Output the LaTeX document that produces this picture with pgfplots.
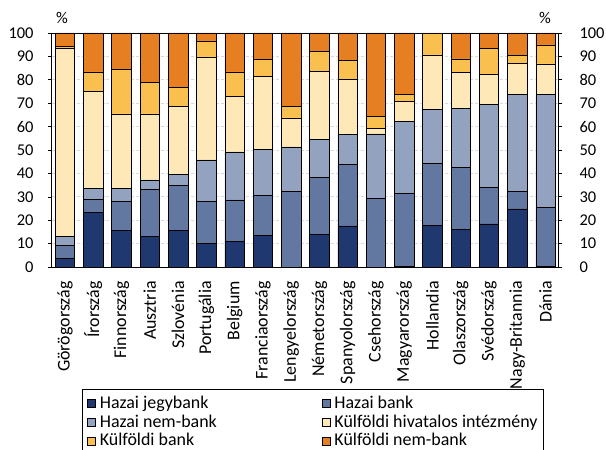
\documentclass[border=0pt]{standalone}
\usepackage{fontspec}
\setmainfont{Carlito}
\usepackage{pgfplots}
\usepackage{pgfplotstable}
\pgfplotsset{compat=1.18}
\definecolor{cjb}{HTML}{1F3870}
\definecolor{chb}{HTML}{6378A0}
\definecolor{chnb}{HTML}{93A2BF}
\definecolor{ckh}{HTML}{FFE8B8}
\definecolor{ckb}{HTML}{F9C04F}
\definecolor{cknb}{HTML}{E67E22}
\pgfplotstableread{
x jb hb hnb kh kb knb
0 3.8 5.6 3.8 80.3 0.8 5.7
1 23.4 5.5 4.7 41.6 8.2 16.6
2 15.5 12.7 5.4 31.8 19.0 15.6
3 13.0 20.3 3.9 28.2 13.5 21.1
4 15.7 19.3 4.6 28.9 8.1 23.4
5 10.2 17.7 17.9 44.0 6.8 3.4
6 11.1 17.6 20.5 23.6 10.6 16.6
7 13.6 17.0 19.6 31.2 7.3 11.3
8 0 32.2 19.1 12.4 4.8 31.5
9 14.0 24.2 16.3 29.2 8.5 7.8
10 17.6 26.1 12.9 23.4 8.4 11.6
11 0 29.4 27.5 2.2 5.4 35.5
12 0.4 30.9 31.0 8.3 3.0 26.4
13 17.9 26.5 22.8 23.4 9.4 0
14 16.2 26.5 25.2 15.2 5.8 11.1
15 18.4 15.6 35.6 12.8 11.1 6.5
16 24.8 7.4 41.4 13.4 3.4 9.6
17 0.4 25.1 48.1 13.2 8.1 5.1
}\data
\begin{document}
\fontsize{16.5}{19}\selectfont
\begin{tikzpicture}
\begin{axis}[
  at={(0,0)}, anchor=south west,
  scale only axis, width=506.6bp, height=234bp,
  ybar stacked, bar width=19.5bp,
  xmin=-0.47, xmax=17.45, ymin=0, ymax=100,
  ytick={0,10,...,100},
  xtick=data,
  xticklabels={Görögország,Írország,Finnország,Ausztria,Szlovénia,Portugália,Belgium,Franciaország,Lengyelország,Németország,Spanyolország,Csehország,Magyarország,Hollandia,Olaszország,Svédország,Nagy-Britannia,Dánia},
  x tick label style={rotate=90, anchor=east, inner sep=0pt, xshift=-10bp, font=\fontsize{18}{19}\selectfont},
  xtick style={draw=none},
  ytick pos=left,
  tick align=outside, major tick length=4bp,
  y tick label style={inner sep=0pt, xshift=-14bp},
  /pgf/number format/assume math mode=true,
  ymajorgrids, grid style={densely dashed, gray!30, line width=0.8bp},
  axis line style={line width=0.8bp},
  every tick/.style={black, line width=0.6bp},
  legend columns=2,
  legend cell align=left,
  legend style={at={(axis description cs:0.0598,-0.5214)}, anchor=north west,
    draw=black, line width=0.6bp, inner xsep=5bp, inner ysep=5.5bp, row sep=1.4bp,
    font=\fontsize{18}{19}\selectfont,
    nodes={inner ysep=1.2bp, inner xsep=1bp},
    /tikz/every even column/.append style={column sep=104bp}},
  legend image code/.code={\draw[#1, line width=0.5bp] (0bp,-4bp) rectangle (8bp,4bp); \path (11bp,0bp);},
  every axis plot/.append style={draw=black, line width=0.6bp},
]
\addplot[fill=cjb] table[x=x,y=jb]{\data};
\addlegendentry{Hazai jegybank}
\addplot[fill=chb] table[x=x,y=hb]{\data};
\addlegendentry{Hazai bank}
\addplot[fill=chnb] table[x=x,y=hnb]{\data};
\addlegendentry{Hazai nem-bank}
\addplot[fill=ckh] table[x=x,y=kh]{\data};
\addlegendentry{Külföldi hivatalos intézmény}
\addplot[fill=ckb] table[x=x,y=kb]{\data};
\addlegendentry{Külföldi bank}
\addplot[fill=cknb] table[x=x,y=knb]{\data};
\addlegendentry{Külföldi nem-bank}
\end{axis}
\begin{axis}[
  at={(0,0)}, anchor=south west,
  scale only axis, width=506.6bp, height=234bp,
  xmin=-0.47, xmax=17.45, ymin=0, ymax=100,
  ytick={0,10,...,100},
  axis x line=none, axis y line*=right,
  tick align=outside, major tick length=4bp,
  y tick label style={inner sep=0pt, anchor=west, xshift=17bp},
  /pgf/number format/assume math mode=true,
  axis line style={line width=0.8bp, -},
  every tick/.style={black, line width=0.6bp},
]
\end{axis}
\node at (10.3bp,249bp) {\%};
\node at (493.3bp,249bp) {\%};
\pgfresetboundingbox
\path[use as bounding box] (-51.7bp,-183bp) rectangle (554.3bp,267bp);
\end{tikzpicture}
\end{document}
